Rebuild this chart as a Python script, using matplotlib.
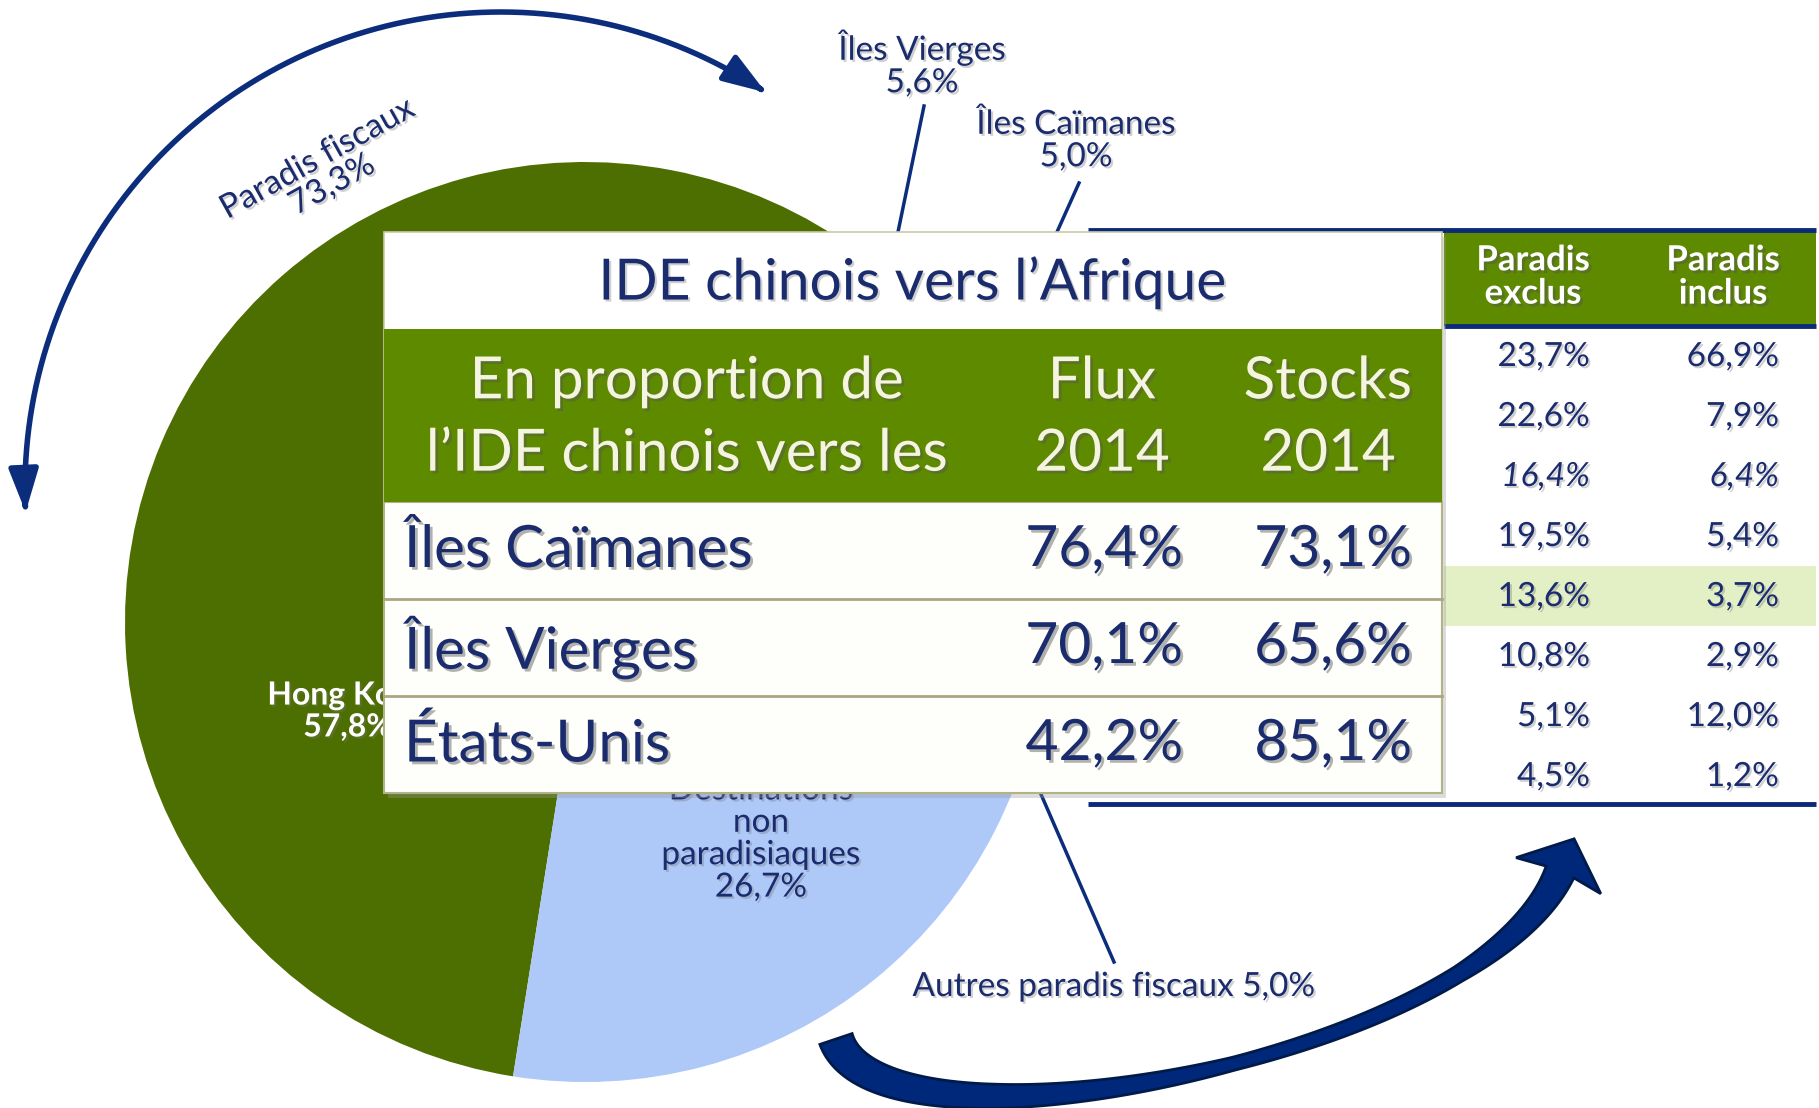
import numpy as np
import matplotlib.pyplot as plt
import matplotlib.patheffects as pe
from matplotlib.patches import Rectangle, FancyArrowPatch, Polygon
from matplotlib.path import Path

W, H = 1819, 1108

# pie: Chinese FDI stock by destination (%)
pie_labels = ["Hong Kong", "Îles Vierges", "Îles Caïmanes",
              "Autres paradis fiscaux", "Destinations\nnon\nparadisiaques"]
pie_values = [57.8, 5.6, 5.0, 5.0, 26.7]
pie_colors = ["#4d6e00", "#6f9a0e", "#8db52c", "#a9c95a", "#aec8f8"]
haven_label = "Paradis fiscaux"
haven_total = 73.3

# overlay table
t1_title = "IDE chinois vers l’Afrique"
t1_head = ["En proportion de\nl’IDE chinois vers les", "Flux\n2014", "Stocks\n2014"]
t1_rows = ["Îles Caïmanes", "Îles Vierges", "États-Unis"]
t1_flux = [76.4, 70.1, 42.2]
t1_stocks = [73.1, 65.6, 85.1]

# right-hand table (row labels hidden behind the overlay)
t2_head = ["Paradis\nexclus", "Paradis\ninclus"]
t2_exclus = [23.7, 22.6, 16.4, 19.5, 13.6, 10.8, 5.1, 4.5]
t2_inclus = [66.9, 7.9, 6.4, 5.4, 3.7, 2.9, 12.0, 1.2]
t2_italic = 2
t2_highlight = 4

NAVY = "#1b2c6e"
ARROW = "#0b2d7c"
GREEN = "#5e8a00"


def pct(v):
    return f"{v:.1f}%".replace(".", ",")


plt.rcParams['font.family'] = ['Lato', 'DejaVu Sans']
fig = plt.figure(figsize=(W / 100, H / 100), dpi=100)
ax = fig.add_axes([0, 0, 1, 1])

shadow = [pe.withSimplePatchShadow(offset=(1.5, -1.5), shadow_rgbFace="#777777", alpha=0.35)]
dshadow = [pe.withSimplePatchShadow(offset=(2, -2), shadow_rgbFace="#555555", alpha=0.45)]

# --- pie ---
cx, cy, r = 585, 622, 460
ax.pie(pie_values, colors=pie_colors, startangle=99, counterclock=True,
       center=(cx, cy), radius=r, wedgeprops=dict(linewidth=0))
ax.set_xlim(0, W)
ax.set_ylim(H, 0)
ax.axis('off')

ax.text(348, 711, f"{pie_labels[0]}\n{pct(pie_values[0])}", color="white",
        fontsize=23, fontweight="bold", ha="center", va="center",
        linespacing=1.12, zorder=2, path_effects=shadow)
ax.text(761, 839, f"{pie_labels[4]}\n{pct(pie_values[4])}", color=NAVY,
        fontsize=24, ha="center", va="center", linespacing=1.1, zorder=2,
        path_effects=shadow)
ax.text(922, 64, f"{pie_labels[1]}\n{pct(pie_values[1])}", color=NAVY,
        fontsize=24, ha="center", va="center", linespacing=1.1, path_effects=shadow)
ax.text(1076, 141, f"{pie_labels[2]}\n{pct(pie_values[2])}", color=NAVY,
        fontsize=24, ha="center", va="center", linespacing=1.1, path_effects=shadow)
ax.text(1114, 987, f"{pie_labels[3]} {pct(pie_values[3])}", color=NAVY,
        fontsize=24, ha="center", va="center", path_effects=shadow)

# leader lines
ax.plot([924, 898], [106, 232], color=ARROW, lw=2.5, zorder=3)
ax.plot([1079, 1057], [183, 232], color=ARROW, lw=2.5, zorder=3)
ax.plot([1040, 1114], [792, 962], color=ARROW, lw=2.5, zorder=3)

# --- top double arrow around the tax havens ---
acx, acy, ar = 501, 488, 476
phi = np.radians(np.linspace(182.9, 56.2, 200))
arc_pts = np.column_stack([acx + ar * np.cos(phi), acy - ar * np.sin(phi)])
ax.add_patch(FancyArrowPatch(path=Path(arc_pts),
                             arrowstyle="<|-|>,head_length=26,head_width=9",
                             lw=4, color=ARROW, zorder=3))
ax.text(325, 172, f"{haven_label}\n{pct(haven_total)}", color=NAVY, fontsize=24,
        ha="center", va="center", rotation=29, rotation_mode="anchor",
        linespacing=1.0, path_effects=shadow)

# --- bottom thick arrow ---
P = np.array([[836, 1039], [880, 1170], [1480, 1060], [1560, 872]], float)
t = np.linspace(0, 1, 200)[:, None]
B = (1 - t) ** 3 * P[0] + 3 * (1 - t) ** 2 * t * P[1] + 3 * (1 - t) * t ** 2 * P[2] + t ** 3 * P[3]
dB = 3 * (1 - t) ** 2 * (P[1] - P[0]) + 6 * (1 - t) * t * (P[2] - P[1]) + 3 * t ** 2 * (P[3] - P[2])
tan_ = dB / np.linalg.norm(dB, axis=1)[:, None]
nrm = np.column_stack([-tan_[:, 1], tan_[:, 0]])
hw = np.interp(t[:, 0], [0, 0.3, 0.55, 0.8, 1], [34, 24, 13, 16, 30])[:, None] / 2
left = B + nrm * hw
right = B - nrm * hw
tip = P[3] + tan_[-1] * 36
barb1 = P[3] + nrm[-1] * 46 - tan_[-1] * 4
barb2 = P[3] - nrm[-1] * 46 - tan_[-1] * 4
shape = np.vstack([left, barb1, tip, barb2, right[::-1]])
ax.add_patch(Polygon(shape, closed=True, fc="#00287a", ec="#001a4a", lw=2, zorder=3))

# --- right-hand table ---
tx0, tx1, tx2 = 1088, 1444, 1816
ax.add_patch(Rectangle((tx1, 232), tx2 - tx1, 94, fc=GREEN, lw=0, zorder=2))
ax.add_patch(Rectangle((tx1, 566), tx2 - tx1, 60, fc="#e3f0c5", lw=0, zorder=2))
ax.plot([tx0, tx2], [230, 230], color="#0b2a78", lw=3.5, zorder=3, solid_capstyle="butt")
ax.plot([tx1, tx2], [326, 326], color="#0b2a78", lw=3.5, zorder=3, solid_capstyle="butt")
ax.plot([tx0, tx2], [804, 804], color="#0b2a78", lw=3.5, zorder=3, solid_capstyle="butt")
for xc, lab in zip([1533, 1723], t2_head):
    ax.text(xc, 277, lab, color="white", fontsize=25, fontweight="bold",
            ha="center", va="center", linespacing=1.05, zorder=3, path_effects=dshadow)
for i, (a, b) in enumerate(zip(t2_exclus, t2_inclus)):
    y = 357 + i * 60
    st = "italic" if i == t2_italic else "normal"
    ax.text(1590, y, pct(a), color=NAVY, fontsize=24, ha="right", va="center",
            style=st, zorder=3, path_effects=shadow)
    ax.text(1779, y, pct(b), color=NAVY, fontsize=24, ha="right", va="center",
            style=st, zorder=3, path_effects=shadow)

# --- overlay table ---
x0, x1 = 384, 1442
y_title, y_head, y_rows, y_end = 232, 329, 502, 793
row_h = (y_end - y_rows) / len(t1_rows)
ax.add_patch(Rectangle((x0 + 4, y_title + 5), x1 - x0, y_end - y_title,
                       fc="#999999", alpha=0.35, lw=0, zorder=4))
ax.add_patch(Rectangle((x0, y_title), x1 - x0, y_end - y_title,
                       fc="white", ec="#c9c9a6", lw=1.2, zorder=5))
ax.add_patch(Rectangle((x0, y_rows), x1 - x0, y_end - y_rows,
                       fc="#fefefa", ec="#b3b38a", lw=1.5, zorder=5))
ax.add_patch(Rectangle((x0, y_head), x1 - x0, y_rows - y_head,
                       fc=GREEN, lw=0, zorder=5))
for i in range(1, len(t1_rows)):
    yy = y_rows + i * row_h
    ax.plot([x0, x1], [yy, yy], color="#a8a880", lw=2, zorder=6)

ax.text(913, 283, t1_title, color=NAVY, fontsize=41, ha="center", va="center",
        zorder=7, path_effects=shadow)
for xc, lab in zip([687, 1102, 1328], t1_head):
    ax.text(xc, 418, lab, color="#f4f4e0", fontsize=42, ha="center", va="center",
            linespacing=1.45, zorder=7, path_effects=dshadow)
for i, (lab, f, s) in enumerate(zip(t1_rows, t1_flux, t1_stocks)):
    y = y_rows + (i + 0.5) * row_h
    ax.text(404, y, lab, color=NAVY, fontsize=42, ha="left", va="center",
            zorder=7, path_effects=dshadow)
    ax.text(1183, y, pct(f), color=NAVY, fontsize=41, ha="right", va="center",
            zorder=7, path_effects=dshadow)
    ax.text(1412, y, pct(s), color=NAVY, fontsize=41, ha="right", va="center",
            zorder=7, path_effects=dshadow)

fig.savefig("out.png", dpi=100)
